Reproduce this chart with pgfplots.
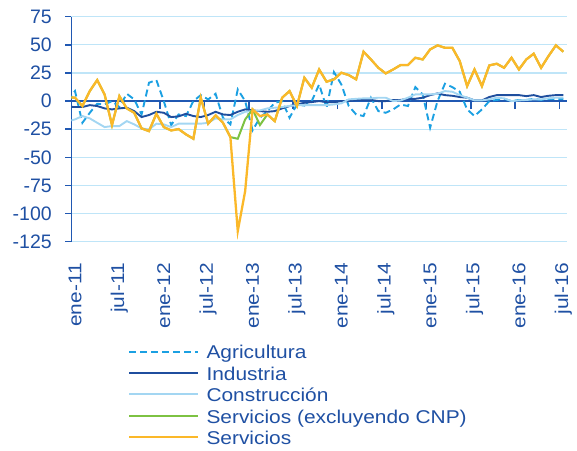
\documentclass[border=0pt]{standalone}
\usepackage{pgfplots}
\pgfplotsset{compat=1.18}
\usepackage{pgfplotstable}
\usepackage{fontspec}
\setmainfont{Liberation Sans}
\newfontfamily\lblfont[FakeStretch=1.13]{Liberation Sans}
\definecolor{txtblue}{HTML}{1F50A3}
\definecolor{axisblue}{HTML}{2058B2}
\definecolor{gridblue}{HTML}{BFE5F8}
\definecolor{agrc}{HTML}{1BA0E2}
\definecolor{indc}{HTML}{1F4E9E}
\definecolor{conc}{HTML}{A3D6F2}
\definecolor{sexc}{HTML}{7DC242}
\definecolor{serc}{HTML}{FBB829}

\pgfplotstableread{
i agr ind con sexc serv
-1 0 -5 -18 3.5 3.5
0 8.9 -5.3 -16.3 3 3
1 -19.3 -5.3 -13.3 -4.4 -4.4
2 -10.4 -3.6 -15.4 8.9 8.9
3 -2.4 -4.4 -19.3 18.7 18.7
4 -3 -6.5 -23.1 5.9 5.9
5 0 -7.4 -22.2 -21.3 -21.3
6 -5.3 -6.5 -22.2 4.4 4.4
7 6.5 -5.9 -17.8 -6.5 -6.5
8 1.5 -8.9 -20.7 -10.4 -10.4
9 -11.9 -14.2 -24.3 -24.3 -24.3
10 16.3 -12.4 -25.2 -26.7 -26.7
11 18.7 -9.5 -20.1 -11.3 -11.3
12 0 -10.4 -20.7 -23.1 -23.1
13 -21.3 -14.2 -23.1 -26.1 -26.1
14 -11.9 -13.6 -20.1 -24.9 -24.9
15 -13.3 -11.3 -20.1 -29.6 -29.6
16 0 -13.3 -20.1 -33.5 -33.5
17 5.3 -14.2 -20.1 3 3
18 1.5 -12.4 -19.3 -20.1 -20.1
19 6.5 -9.5 -15.4 -12.7 -12.7
20 -14.8 -11.9 -16.3 -19.3 -19.3
21 -20.7 -12.4 -16.3 -32 -32
22 10.4 -9.5 -12.4 -33.5 -115.6
23 0 -7.4 -9.5 -16.3 -80
24 -26 -8.3 -8.9 -7.4 -7.4
25 -14.8 -8.9 -8.3 -21.3 -13.3
26 -8.9 -9.5 -6.5 -11.9 -11.9
27 -1.5 -8.9 -5.9 -17.8 -17.8
28 0 -6.5 -5.3 3 3
29 -14.8 -4.4 -4.4 8.9 8.9
30 -3 -3 -3.6 -4.4 -4.4
31 -4 -1.5 -3.6 20.7 20.7
32 0 -0.9 -3.6 11.9 11.9
33 14.8 0 -3.6 28.1 28.1
34 -5.9 -1 -3.6 17.2 17.2
35 25.8 -1 -3 19.3 19.3
36 14.8 0 -2 25.2 25.2
37 -4.4 0 1.5 23.1 23.1
38 -11.9 1 2 19.3 19.3
39 -13.3 1 2.4 43.9 43.9
40 3 1 2.4 37 37
41 -8.9 0 3 29.6 29.6
42 -10.4 0 3 24.6 24.6
43 -7.4 1 0 28.1 28.1
44 -3 1 0.5 32 32
45 -4.4 2 3 32 32
46 12.4 2 5.9 38.5 38.5
47 5.9 3 5.9 37 37
48 -23.7 5.3 5.9 45.9 45.9
49 0 6.8 6.5 49.5 49.5
50 15.4 5.3 8.9 47.4 47.4
51 12.4 4.7 8.3 47.4 47.4
52 8.3 3.6 5.3 35.6 35.6
53 -7.4 3 3 13.3 13.3
54 -13.3 0.6 0.6 28.1 28.1
55 -7.4 0.6 0.6 13.3 13.3
56 0 3.6 1.5 31.7 31.7
57 1 5.3 3 33.2 33.2
58 2 5.3 2.4 29.6 29.6
59 0 5.3 0 38.5 38.5
60 1 5.3 0.6 28.1 28.1
61 1 4.4 1 37 37
62 2 5.3 1.5 42.1 42.1
63 1 3.6 1.5 29.6 29.6
64 2 4.7 2.4 40 40
65 2 5.3 3 49.5 49.5
66 2 5.3 3 43.9 43.9
}\datatable

\begin{document}
\begin{tikzpicture}
\useasboundingbox (-71.3pt,-208.3pt) rectangle (505.7pt,241.7pt);
% axis whose bottom edge lies on the zero line: carries the tick marks there
\begin{axis}[scale only axis, width=495.7pt, height=84.375pt,
  at={(0pt,140.625pt)}, anchor=south west,
  xmin=-0.5, xmax=66.5, ymin=0, ymax=75,
  axis x line*=bottom, axis y line=none,
  x axis line style={draw=none},
  xtick={5.5,11.5,...,65.5}, xticklabels={}, ytick=\empty,
  major tick length=8pt, tick align=outside,
  xtick style={draw=axisblue, line width=1.6pt}]
\addplot[draw=none, forget plot] coordinates {(0,10)};
\end{axis}
\begin{axis}[scale only axis, width=495.7pt, height=225pt,
  at={(0pt,0pt)}, anchor=south west,
  xmin=-0.5, xmax=66.5, ymin=-125, ymax=75,
  axis x line*=bottom, axis y line*=left,
  x axis line style={draw=none},
  y axis line style={draw=axisblue, line width=1.5pt, -},
  xtick={0,6,...,66},
  xticklabels={ene-11,jul-11,ene-12,jul-12,ene-13,jul-13,ene-14,jul-14,ene-15,jul-15,ene-16,jul-16},
  xtick style={draw=none},
  ytick={-125,-100,...,75},
  yticklabels={-125,-100,-75,-50,-25,0,25,50,75},
  ytick style={draw=axisblue, line width=1.5pt},
  major tick length=6pt, tick align=outside,
  ymajorgrids, major grid style={draw=gridblue, line width=1.3pt},
  extra y ticks={0}, extra y tick labels={},
  extra y tick style={grid=major, major grid style={draw=axisblue, line width=1.6pt}},
  yticklabel style={font=\fontsize{19.5}{20}\selectfont, text=txtblue, xshift=-10pt},
  xticklabel style={font=\lblfont\fontsize{18.5}{20}\selectfont, text=txtblue, yshift=-12pt, rotate=90, anchor=east},
  legend style={at={(0.1144,-0.4578)}, anchor=north west, draw=none, fill=none,
    inner sep=0pt, row sep=0pt, /tikz/column sep=7pt,
    font=\lblfont\fontsize{18.5}{20}\selectfont, text=txtblue,
    nodes={inner sep=0pt, text height=14pt, text depth=7.4pt}},
  legend cell align=left,
  legend image code/.code={\draw[#1] (0pt,4pt) -- (69pt,4pt);},
]
\addplot[agrc, line width=1.9pt, dash pattern=on 7pt off 4pt] table[x=i,y=agr]{\datatable};
\addlegendentry{Agricultura}
\addplot[indc, line width=1.9pt] table[x=i,y=ind]{\datatable};
\addlegendentry{Industria}
\addplot[conc, line width=1.9pt] table[x=i,y=con]{\datatable};
\addlegendentry{Construcción}
\addplot[sexc, line width=2pt] table[x=i,y=sexc]{\datatable};
\addlegendentry{Servicios (excluyendo CNP)}
\addplot[serc, line width=2.3pt] table[x=i,y=serv]{\datatable};
\addlegendentry{Servicios}
\end{axis}
\end{tikzpicture}
\end{document}
